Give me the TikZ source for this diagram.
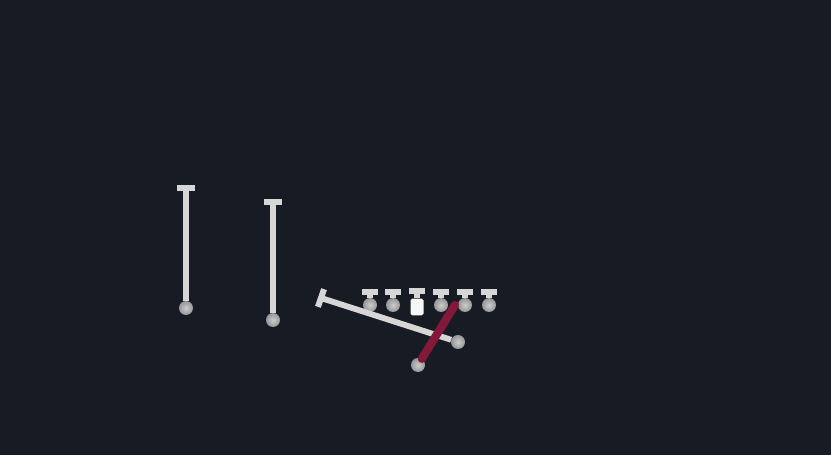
\documentclass[tikz,border=0pt]{standalone}
\usetikzlibrary{calc}
\definecolor{nightbg}{RGB}{23,27,36}
\definecolor{rodgray}{RGB}{214,214,214}
\definecolor{ballgray}{RGB}{150,150,152}
\definecolor{balllight}{RGB}{205,205,205}
\definecolor{pinred}{RGB}{132,24,58}

\begin{document}
\begin{tikzpicture}[
    x=0.03cm, y=-0.03cm,
    capbox/.style={rectangle, fill=rodgray, inner sep=0pt,
                minimum width=0.56cm, minimum height=0.18cm},
    smallcap/.style={capbox, minimum width=0.5cm, minimum height=0.16cm},
    ball/.style={circle, inner sep=0pt, minimum size=0.42cm,
                inner color=balllight, outer color=ballgray},
    smallball/.style={ball, minimum size=0.42cm},
    block/.style={rectangle, fill=white!94!gray, rounded corners=1.5pt,
                inner sep=0pt, minimum width=0.39cm, minimum height=0.5cm},
    rod/.style={draw=rodgray, line width=5pt},
    stem/.style={draw=rodgray, line width=5.5pt},
    redrod/.style={draw=pinred, line width=7pt, line cap=round}
]
    % Background
    \fill[nightbg] (0,0) rectangle (831,455);

    % Two standing rods
    \node[ball] (ball1) at (186,308) {};
    \node[capbox] (cap1) at (186,188) {};
    \draw[rod] (cap1.south) -- (ball1);

    \node[ball] (ball2) at (273,320) {};
    \node[capbox] (cap2) at (273,202) {};
    \draw[rod] (cap2.south) -- (ball2);

    % Row of small pins
    \foreach \px/\name in {370/a, 393/b, 441/d, 465/e, 489/f} {
        \node[smallball] (pball-\name) at (\px,305) {};
        \node[smallcap] (pcap-\name) at (\px,292) {};
        \draw[stem] (pcap-\name.south) -- (pball-\name.north);
    }
    \node[block] (pblock-c) at (417,307) {};
    \node[smallcap] (pcap-c) at (417,291) {};
    \draw[stem] (pcap-c.south) -- (pblock-c.north);

    % Tilted rod
    \node[ball] (ball3) at (458,342) {};
    \node[capbox, rotate=71] (cap3) at (321,298) {};
    \draw[rod] (cap3.center) -- (ball3);

    % Red rod
    \node[ball] (ball4) at (418,365) {};
    \coordinate (redtop) at (455,305);
    \draw[redrod] (redtop) -- (ball4);
\end{tikzpicture}
\end{document}
